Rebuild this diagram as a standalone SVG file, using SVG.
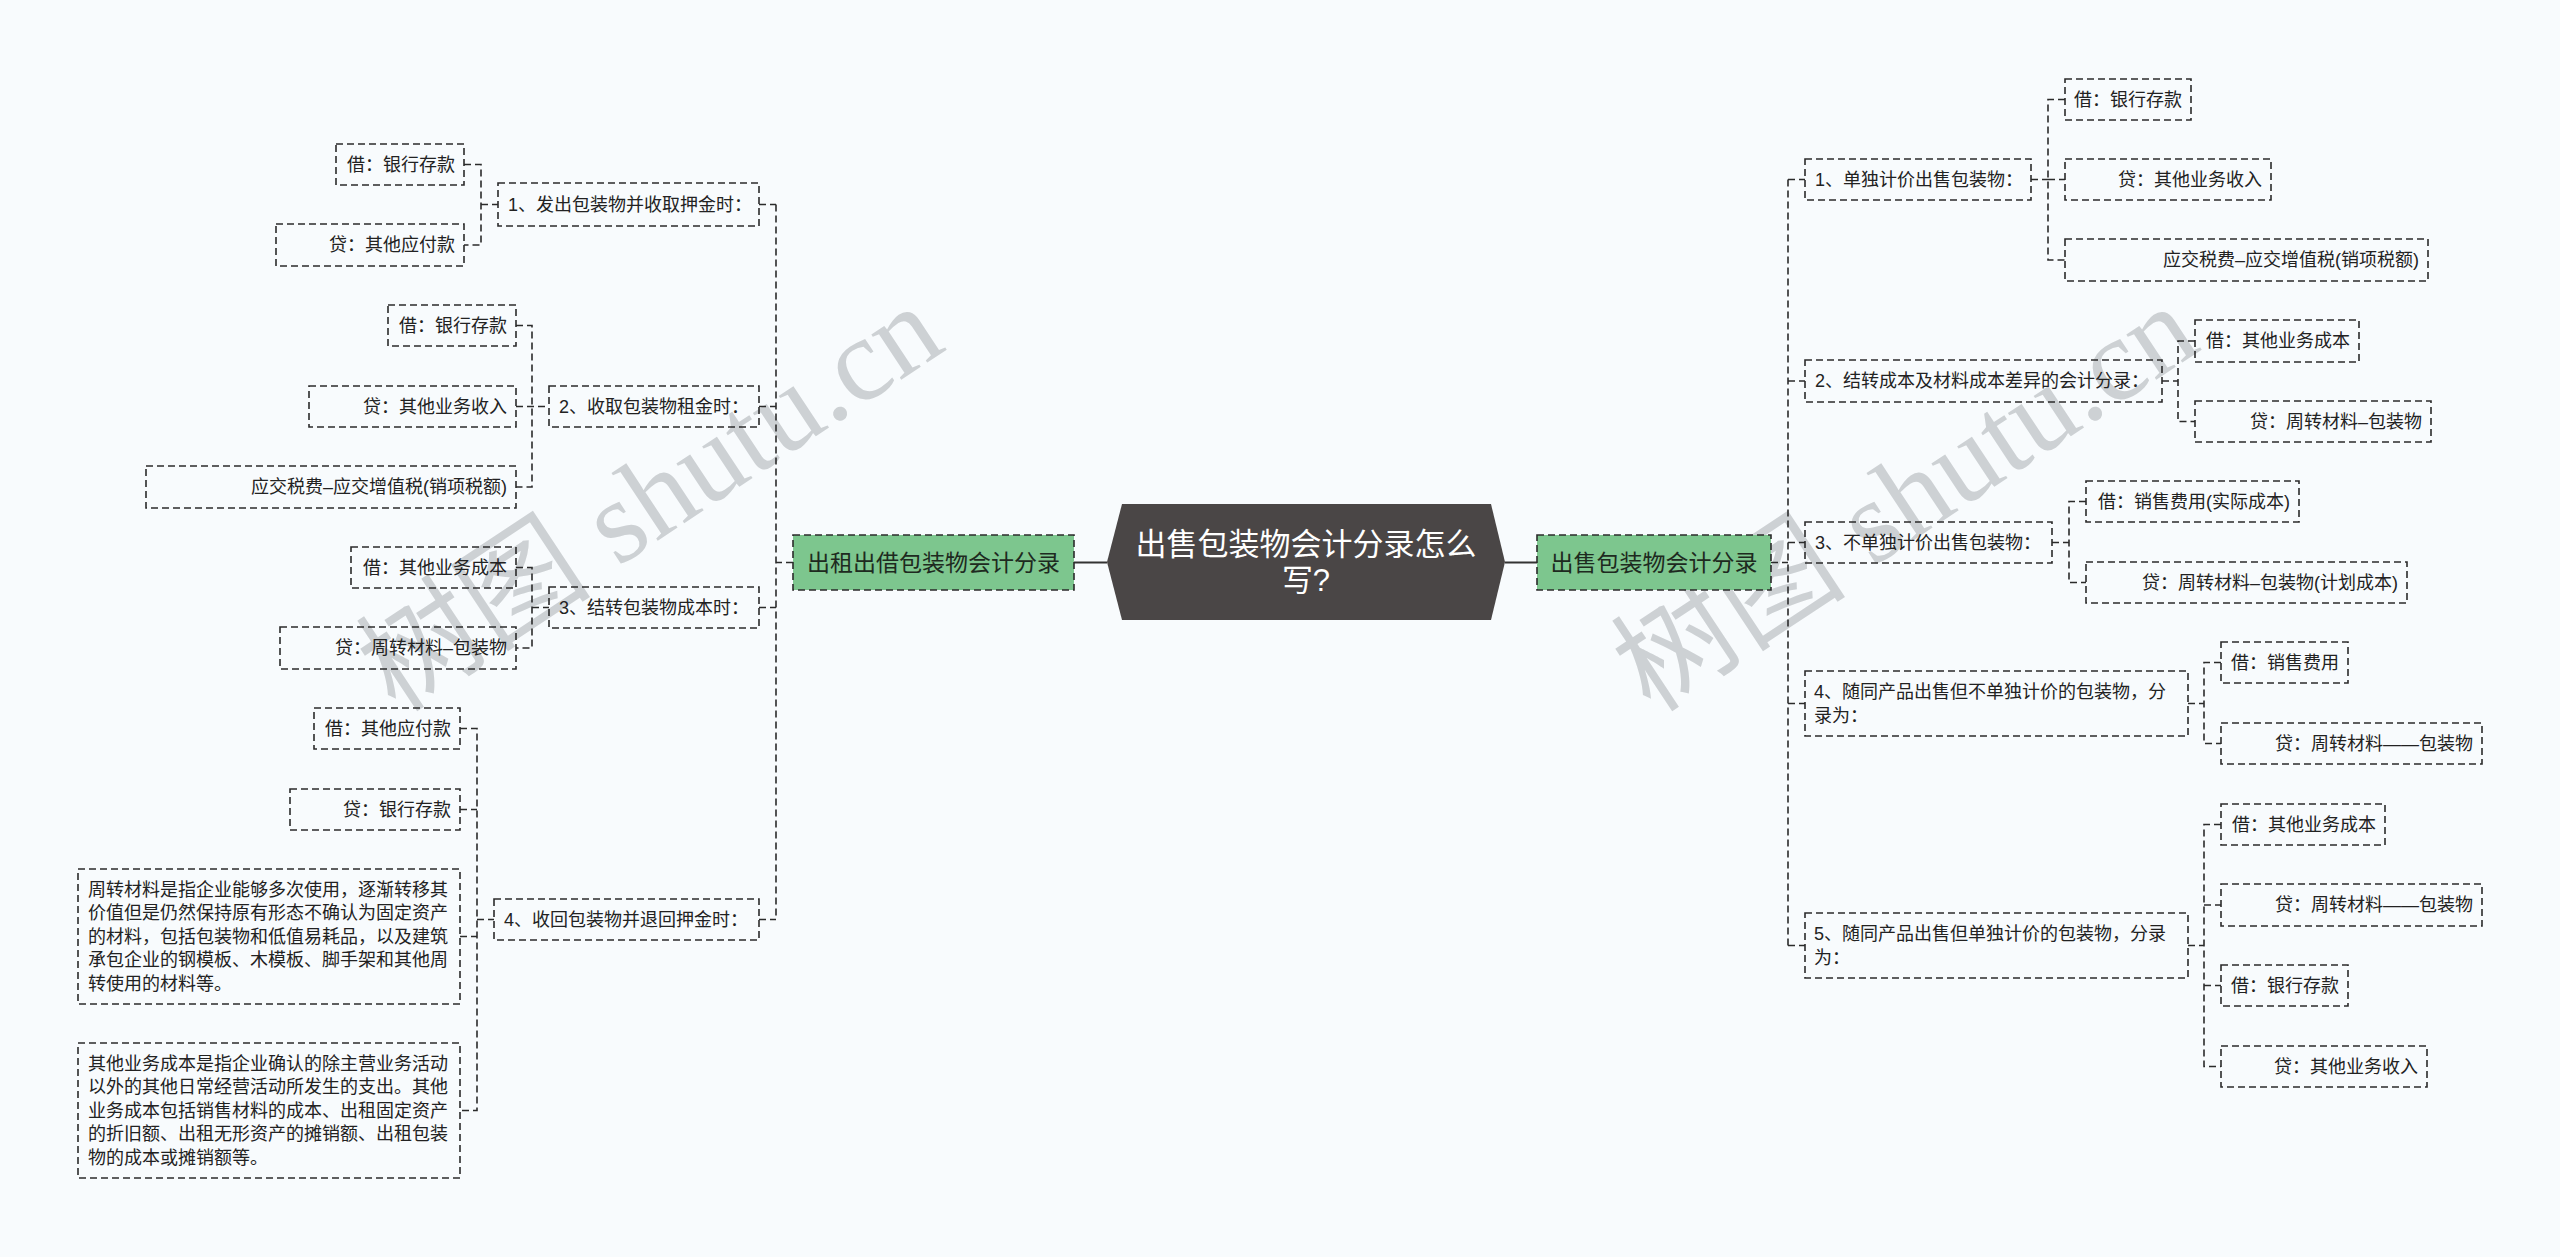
<svg xmlns="http://www.w3.org/2000/svg" width="2560" height="1257" viewBox="0 0 2560 1257">
<style>
.box{fill:none;stroke:#2b2b2b;stroke-width:1.6;stroke-dasharray:7 4}
.green{fill:#7dc68e;stroke:#2b2b2b;stroke-width:1.6;stroke-dasharray:7 4}
.t{font-family:'Liberation Sans','Noto Sans CJK SC',sans-serif;font-size:18px;fill:#222;dominant-baseline:central}
.e{text-anchor:end}
.g{font-size:23px;text-anchor:middle;fill:#1e2a20}
.title{font-family:'Liberation Sans','Noto Sans CJK SC',sans-serif;font-size:31px;fill:#fff;text-anchor:middle;dominant-baseline:central}
.c{fill:none;stroke:#2b2b2b;stroke-width:1.6;stroke-dasharray:7 4}
.s{fill:none;stroke:#333;stroke-width:2.2}
.wm{font-family:'Liberation Serif','Noto Sans CJK SC',serif;font-size:118px;fill:#cdd1d4}
</style>
<rect x="0" y="0" width="2560" height="1257" fill="#f8fbfd"/>

<g id="watermark">
  <text class="wm" transform="translate(396 714) rotate(-33.5)">树图 shutu.cn</text>
  <text class="wm" transform="translate(1651 714) rotate(-33.5)">树图 shutu.cn</text>
</g>

<g id="connectors">
  <path class="s" d="M1074 562.5 H1107 M1505 562.5 H1537"/>
  <path class="c" d="M793 562.5 H776 M776 204.5 V919.5 M759 204.5 H776 M759 406.5 H776 M759 607.5 H776 M759 919.5 H776"/>
  <path class="c" d="M464 164.5 H481 V245 H464 M481 204.5 H498"/>
  <path class="c" d="M516 325.5 H532 V487 H516 M516 406.5 H549"/>
  <path class="c" d="M516 567.5 H532 V648 H516 M532 607.5 H549"/>
  <path class="c" d="M460 728.5 H477 V1110.5 H460 M460 809.5 H477 M460 936.5 H477 M477 919.5 H494"/>
  <path class="c" d="M1771 562.5 H1788 M1788 179.5 V945.5 M1788 179.5 H1805 M1788 381 H1805 M1788 542.5 H1805 M1788 703.5 H1805 M1788 945.5 H1805"/>
  <path class="c" d="M2065 99.5 H2048 V260 H2065 M2048 179.5 H2065 M2031 179.5 H2048"/>
  <path class="c" d="M2195 341 H2178 V421.5 H2195 M2162 381 H2178"/>
  <path class="c" d="M2086 501.5 H2069 V582.5 H2086 M2052 542.5 H2069"/>
  <path class="c" d="M2221 662.5 H2204 V743.5 H2221 M2188 703.5 H2204"/>
  <path class="c" d="M2221 824.5 H2204 V1066.5 H2221 M2204 905 H2221 M2204 985.5 H2221 M2188 945.5 H2204"/>
</g>

<g id="root">
  <polygon points="1107,562 1122,504 1491,504 1505,562 1491,620 1122,620" fill="#4a4646"/>
  <text class="title" x="1306" y="544">出售包装物会计分录怎么</text>
  <text class="title" x="1306" y="580">写?</text>
</g>

<g id="left-main">
  <rect class="green" x="793" y="535" width="281" height="55"/>
  <text class="t g" x="933.5" y="562.5">出租出借包装物会计分录</text>
</g>
<g id="right-main">
  <rect class="green" x="1537" y="535" width="234" height="55"/>
  <text class="t g" x="1654" y="562.5">出售包装物会计分录</text>
</g>

<g id="L1"><rect class="box" x="498" y="183" width="261" height="43"/><text class="t" x="508" y="204.5">1、发出包装物并收取押金时：</text></g>
<g id="L1a"><rect class="box" x="336" y="144" width="128" height="41"/><text class="t e" x="455" y="164.5">借：银行存款</text></g>
<g id="L1b"><rect class="box" x="276" y="224" width="188" height="42"/><text class="t e" x="455" y="245">贷：其他应付款</text></g>

<g id="L2"><rect class="box" x="549" y="386" width="210" height="41"/><text class="t" x="559" y="406.5">2、收取包装物租金时：</text></g>
<g id="L2a"><rect class="box" x="388" y="305" width="128" height="41"/><text class="t e" x="507" y="325.5">借：银行存款</text></g>
<g id="L2b"><rect class="box" x="309" y="386" width="207" height="41"/><text class="t e" x="507" y="406.5">贷：其他业务收入</text></g>
<g id="L2c"><rect class="box" x="146" y="466" width="370" height="42"/><text class="t e" x="507" y="487">应交税费–应交增值税(销项税额)</text></g>

<g id="L3"><rect class="box" x="549" y="587" width="210" height="41"/><text class="t" x="559" y="607.5">3、结转包装物成本时：</text></g>
<g id="L3a"><rect class="box" x="351" y="547" width="165" height="41"/><text class="t e" x="507" y="567.5">借：其他业务成本</text></g>
<g id="L3b"><rect class="box" x="280" y="627" width="236" height="42"/><text class="t e" x="507" y="648">贷：周转材料–包装物</text></g>

<g id="L4"><rect class="box" x="494" y="899" width="265" height="41"/><text class="t" x="504" y="919.5">4、收回包装物并退回押金时：</text></g>
<g id="L4a"><rect class="box" x="314" y="708" width="146" height="41"/><text class="t e" x="451" y="728.5">借：其他应付款</text></g>
<g id="L4b"><rect class="box" x="290" y="789" width="170" height="41"/><text class="t e" x="451" y="809.5">贷：银行存款</text></g>
<g id="L4c"><rect class="box" x="78" y="869" width="382" height="135"/>
  <text class="t" x="88" y="889.5">周转材料是指企业能够多次使用，逐渐转移其</text>
  <text class="t" x="88" y="913">价值但是仍然保持原有形态不确认为固定资产</text>
  <text class="t" x="88" y="936.5">的材料，包括包装物和低值易耗品，以及建筑</text>
  <text class="t" x="88" y="960">承包企业的钢模板、木模板、脚手架和其他周</text>
  <text class="t" x="88" y="983.5">转使用的材料等。</text>
</g>
<g id="L4d"><rect class="box" x="78" y="1043" width="382" height="135"/>
  <text class="t" x="88" y="1063.5">其他业务成本是指企业确认的除主营业务活动</text>
  <text class="t" x="88" y="1087">以外的其他日常经营活动所发生的支出。其他</text>
  <text class="t" x="88" y="1110.5">业务成本包括销售材料的成本、出租固定资产</text>
  <text class="t" x="88" y="1134">的折旧额、出租无形资产的摊销额、出租包装</text>
  <text class="t" x="88" y="1157.5">物的成本或摊销额等。</text>
</g>

<g id="R1"><rect class="box" x="1805" y="159" width="226" height="41"/><text class="t" x="1815" y="179.5">1、单独计价出售包装物：</text></g>
<g id="R1a"><rect class="box" x="2065" y="79" width="126" height="41"/><text class="t e" x="2182" y="99.5">借：银行存款</text></g>
<g id="R1b"><rect class="box" x="2065" y="159" width="206" height="41"/><text class="t e" x="2262" y="179.5">贷：其他业务收入</text></g>
<g id="R1c"><rect class="box" x="2065" y="239" width="363" height="42"/><text class="t e" x="2419" y="260">应交税费–应交增值税(销项税额)</text></g>

<g id="R2"><rect class="box" x="1805" y="360" width="357" height="42"/><text class="t" x="1815" y="381">2、结转成本及材料成本差异的会计分录：</text></g>
<g id="R2a"><rect class="box" x="2195" y="320" width="164" height="42"/><text class="t e" x="2350" y="341">借：其他业务成本</text></g>
<g id="R2b"><rect class="box" x="2195" y="401" width="236" height="41"/><text class="t e" x="2422" y="421.5">贷：周转材料–包装物</text></g>

<g id="R3"><rect class="box" x="1805" y="522" width="247" height="41"/><text class="t" x="1815" y="542.5">3、不单独计价出售包装物：</text></g>
<g id="R3a"><rect class="box" x="2086" y="481" width="213" height="41"/><text class="t e" x="2290" y="501.5">借：销售费用(实际成本)</text></g>
<g id="R3b"><rect class="box" x="2086" y="562" width="321" height="41"/><text class="t e" x="2398" y="582.5">贷：周转材料–包装物(计划成本)</text></g>

<g id="R4"><rect class="box" x="1805" y="671" width="383" height="65"/>
  <text class="t" x="1814" y="692">4、随同产品出售但不单独计价的包装物，分</text>
  <text class="t" x="1814" y="715.5">录为：</text>
</g>
<g id="R4a"><rect class="box" x="2221" y="642" width="127" height="41"/><text class="t e" x="2339" y="662.5">借：销售费用</text></g>
<g id="R4b"><rect class="box" x="2221" y="723" width="261" height="41"/><text class="t e" x="2473" y="743.5">贷：周转材料——包装物</text></g>

<g id="R5"><rect class="box" x="1805" y="913" width="383" height="65"/>
  <text class="t" x="1814" y="934">5、随同产品出售但单独计价的包装物，分录</text>
  <text class="t" x="1814" y="957.5">为：</text>
</g>
<g id="R5a"><rect class="box" x="2221" y="804" width="164" height="41"/><text class="t e" x="2376" y="824.5">借：其他业务成本</text></g>
<g id="R5b"><rect class="box" x="2221" y="884" width="261" height="42"/><text class="t e" x="2473" y="905">贷：周转材料——包装物</text></g>
<g id="R5c"><rect class="box" x="2221" y="965" width="127" height="41"/><text class="t e" x="2339" y="985.5">借：银行存款</text></g>
<g id="R5d"><rect class="box" x="2221" y="1046" width="206" height="41"/><text class="t e" x="2418" y="1066.5">贷：其他业务收入</text></g>
</svg>
